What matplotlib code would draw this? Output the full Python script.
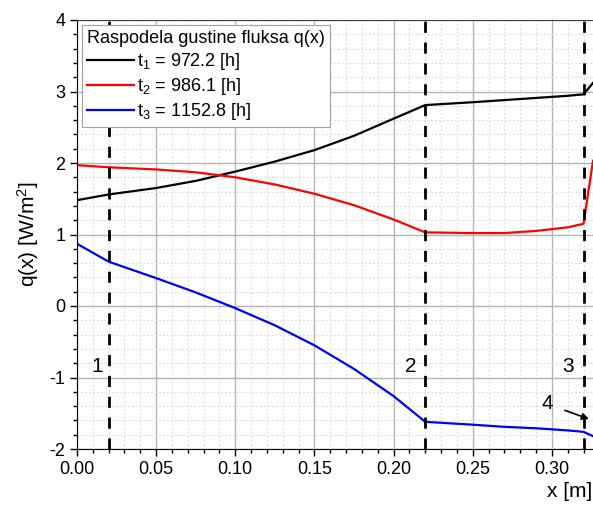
import matplotlib.pyplot as plt
from matplotlib.ticker import MultipleLocator

plt.rcParams['font.family'] = ['Liberation Sans', 'DejaVu Sans']
plt.rcParams['axes.unicode_minus'] = False

# values
x = [0.0, 0.02, 0.05, 0.075, 0.1, 0.125, 0.15, 0.175, 0.2, 0.22,
     0.25, 0.27, 0.29, 0.31, 0.32, 0.326]
q_t1 = [1.48, 1.56, 1.65, 1.75, 1.88, 2.02, 2.18, 2.38, 2.62, 2.81,
        2.85, 2.88, 2.91, 2.94, 2.96, 3.12]
q_t2 = [1.97, 1.94, 1.91, 1.87, 1.80, 1.70, 1.57, 1.41, 1.21, 1.03,
        1.02, 1.02, 1.05, 1.10, 1.15, 2.03]
q_t3 = [0.87, 0.62, 0.39, 0.19, -0.03, -0.27, -0.55, -0.88, -1.26, -1.62,
        -1.66, -1.69, -1.71, -1.74, -1.76, -1.82]
labels = ['$\\mathregular{t_1}$ = 972.2 [h]', '$\\mathregular{t_2}$ = 986.1 [h]',
          '$\\mathregular{t_3}$ = 1152.8 [h]']
boundaries = [0.02, 0.22, 0.32]
region_labels = ['1', '2', '3']
region_label_x = [0.013, 0.211, 0.31]

fig = plt.figure(figsize=(5.93, 5.05), dpi=100)
ax = fig.add_axes([77 / 593, 56 / 505, 516 / 593, 429 / 505])

ax.plot(x, q_t1, color='black', lw=1.6, label=labels[0])
ax.plot(x, q_t2, color='red', lw=1.6, label=labels[1])
ax.plot(x, q_t3, color='blue', lw=1.6, label=labels[2])

for b in boundaries:
    ax.axvline(b, color='black', lw=2, ls=(0, (4, 3.5)), zorder=3)
for lx, lt in zip(region_label_x, region_labels):
    ax.text(lx, -0.85, lt, fontsize=15, ha='center', va='center')

ax.annotate('4', xy=(0.3234, -1.58), xytext=(0.297, -1.37), fontsize=15,
            ha='center', va='center',
            arrowprops=dict(arrowstyle='-|>', color='black', lw=1.2,
                            shrinkA=7, shrinkB=0, mutation_scale=10))

ax.set_xlim(0, 0.326)
ax.set_ylim(-2, 4)
ax.xaxis.set_major_locator(MultipleLocator(0.05))
ax.xaxis.set_minor_locator(MultipleLocator(0.01))
ax.yaxis.set_major_locator(MultipleLocator(1))
ax.yaxis.set_minor_locator(MultipleLocator(0.2))
ax.xaxis.set_major_formatter(plt.FormatStrFormatter('%.2f'))
ax.grid(which='major', color='#b4b4b4', lw=1, ls='-')
ax.grid(which='minor', color='#dadada', lw=0.8, ls=(0, (1.5, 2)))
ax.set_axisbelow(True)
ax.tick_params(which='major', direction='out', length=5, width=1, labelsize=13)
ax.tick_params(which='minor', direction='out', length=3, width=1)

ax.spines['top'].set_color('#404040')
ax.spines['right'].set_visible(False)

ax.set_ylabel('q(x) [W/m$\\mathregular{^2}$]', fontsize=15, labelpad=6)
ax.set_xlabel('x [m]', fontsize=15)
ax.xaxis.set_label_coords(0.955, -0.078)

leg = ax.legend(loc='upper left', title='Raspodela gustine fluksa q(x)',
                fontsize=13, title_fontsize=13, fancybox=False,
                edgecolor='#a0a0a0', framealpha=1, handlelength=2.6,
                handletextpad=0.2, borderaxespad=0.25, labelspacing=0.22,
                borderpad=0.3)
leg._legend_box.align = 'left'
leg.get_frame().set_linewidth(0.8)

fig.savefig('out.png', dpi=100)
